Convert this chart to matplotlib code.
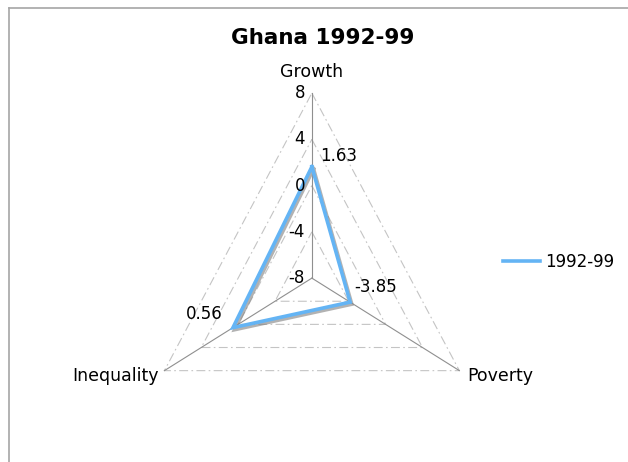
import matplotlib.pyplot as plt
import matplotlib.patheffects as pe
from matplotlib.lines import Line2D
import numpy as np

# Radar data
axes_names = ['Growth', 'Poverty', 'Inequality']
values = [1.63, -3.85, 0.56]
series_name = '1992-99'
ticks = [-8, -4, 0, 4, 8]
vmin, vmax = -8, 8
line_color = '#64B4F4'

angles = np.deg2rad([0, 120, 240])  # clockwise from the top


def to_xy(val, ang):
    r = val - vmin
    return r * np.sin(ang), r * np.cos(ang)


fig = plt.figure(figsize=(6.28, 4.62), dpi=100)
ax = fig.add_axes([0, 0, 1, 1])
ax.set_xlim(-29.3, 29.7)
ax.set_ylim(-15.9, 24.05)
ax.axis('off')

# chart area frame (left and top edges only visible)
fig.add_artist(Line2D([8.5 / 628, 8.5 / 628], [0, 1 - 8 / 462], color='#A6A6A6', lw=1.2))
fig.add_artist(Line2D([8.5 / 628, 1], [1 - 8 / 462, 1 - 8 / 462], color='#A6A6A6', lw=1.2))

# grid triangles
for t in ticks[1:]:
    pts = [to_xy(t, a) for a in angles] + [to_xy(t, angles[0])]
    xs, ys = zip(*pts)
    ax.plot(xs, ys, color='#C4C4C4', lw=0.8, ls=(0, (8, 3, 1.5, 3)))

# spokes
for a in angles:
    x, y = to_xy(vmax, a)
    ax.plot([0, x], [0, y], color='#8F8F8F', lw=0.8)

# tick labels along the Growth spoke
for t in ticks:
    x, y = to_xy(t, 0)
    ax.text(x - 0.65, y, str(t), ha='right', va='center', fontsize=12)

# category labels
ax.text(0, 17.8, axes_names[0], ha='center', va='center', fontsize=12.5)
px, py = to_xy(vmax, angles[1])
ax.text(px + 0.7, py - 0.5, axes_names[1], ha='left', va='center', fontsize=12.5)
ix, iy = to_xy(vmax, angles[2])
ax.text(ix - 0.5, iy - 0.5, axes_names[2], ha='right', va='center', fontsize=12.5)

# series with a soft drop shadow
pts = [to_xy(v, a) for v, a in zip(values, angles)]
xs = [p[0] for p in pts] + [pts[0][0]]
ys = [p[1] for p in pts] + [pts[0][1]]
ax.plot(xs, ys, color=line_color, lw=2.6, solid_joinstyle='miter',
        path_effects=[pe.SimpleLineShadow(offset=(1.2, -1.5), shadow_color='#7F7F7F', alpha=0.6),
                      pe.Normal()])

# value labels
offsets = [(8, 11, 'left'), (4, 15, 'left'), (-10, 14, 'right')]
for (x, y), v, (dx, dy, ha) in zip(pts, values, offsets):
    ax.annotate(f'{v:.2f}', (x, y), xytext=(dx, dy), textcoords='offset pixels',
                ha=ha, va='center', fontsize=12)

fig.text(323 / 628, 1 - 38 / 462, 'Ghana 1992-99', ha='center', va='center',
         fontsize=15.5, fontweight='bold')

handle = Line2D([], [], color=line_color, lw=2.6)
ax.legend([handle], [series_name], loc='center left', bbox_to_anchor=(488 / 628, 1 - 262 / 462),
          bbox_transform=fig.transFigure, frameon=False, fontsize=12,
          handlelength=2.2, handletextpad=0.3)

fig.savefig('out.png', dpi=100)
